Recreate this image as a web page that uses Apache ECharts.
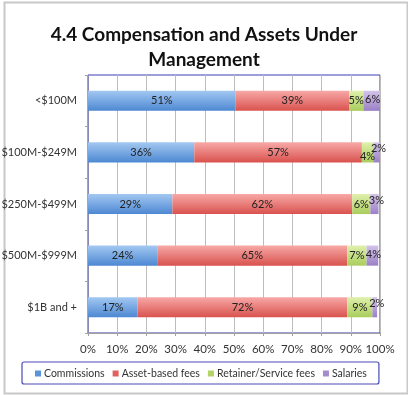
<!DOCTYPE html>
<html>
<head>
<meta charset="utf-8">
<script src="https://cdn.jsdelivr.net/npm/echarts@6/dist/echarts.min.js"></script>
<style>
html,body{margin:0;padding:0;background:#fff;}
#c{width:408px;height:395px;}
</style>
</head>
<body>
<div id="c"></div>
<script>
const categories = ['<$100M', '$100M-$249M', '$250M-$499M', '$500M-$999M', '$1B and +'];
const commissions = [50.6, 36.4, 28.9, 23.7, 17.0];
const assetBased = [38.8, 57.4, 61.6, 65.1, 71.8];
const retainer = [4.9, 3.9, 6.2, 6.6, 8.6];
const salaries = [5.7, 2.2, 2.8, 4.0, 1.6];
const seriesNames = ['Commissions', 'Asset-based fees', 'Retainer/Service fees', 'Salaries'];
const tickLabels = ['0%','10%','20%','30%','40%','50%','60%','70%','80%','90%','100%'];

const FONT = 'Lato, "Open Sans", sans-serif';
function grad(top, bottom) {
  return new echarts.graphic.LinearGradient(0, 0, 0, 1, [
    {offset: 0, color: top}, {offset: 1, color: bottom}
  ]);
}
const colors = [
  grad('#a3c8f2', '#4d88d2'),
  grad('#f7a9a7', '#d9524e'),
  grad('#e0f0ad', '#a9cd5c'),
  grad('#d3c3ea', '#9b80c6')
];
const legendColors = ['#5b94d8', '#e06260', '#b4d46a', '#a58dcc'];
const allData = [commissions, assetBased, retainer, salaries];

// nudge crowded small labels (as in the original) so they do not overlap
function labelOffset(seriesIdx, v, rowIdx) {
  if (seriesIdx === 2 && v < 5 && salaries[rowIdx] < 3) return [0, 4];
  if (seriesIdx === 3 && v < 3) return [2, -4];
  if (seriesIdx === 3) return [1, -1];
  return [0, 0];
}

const chart = echarts.init(document.getElementById('c'));
chart.setOption({
  animation: false,
  backgroundColor: '#fff',
  title: {
    text: '4.4 Compensation and Assets Under\nManagement',
    left: 'center',
    top: 17,
    textStyle: {fontFamily: FONT, fontWeight: 'bold', fontSize: 19, color: '#111', lineHeight: 25}
  },
  graphic: [{
    type: 'rect', left: 2, top: 0, z: -1,
    shape: {width: 403, height: 391},
    style: {fill: 'none', stroke: '#c8c8c8', lineWidth: 2}
  }],
  legend: {
    data: seriesNames.map((n, i) => ({name: n, itemStyle: {color: legendColors[i]}})),
    top: 362,
    left: 22,
    width: 384,
    icon: 'rect',
    itemWidth: 6,
    itemHeight: 6,
    itemGap: 8,
    padding: [6, 12, 5, 13],
    borderColor: '#4a4ab8',
    borderWidth: 1.2,
    borderRadius: 2,
    textStyle: {fontFamily: FONT, fontSize: 10.5, color: '#333', padding: [0, 0, 0, -2]}
  },
  grid: {
    left: 88, right: 28, top: 75, bottom: 62,
    outerBoundsMode: 'none', containLabel: false,
    show: true, borderColor: '#3c3cb4', borderWidth: 1
  },
  xAxis: {
    type: 'value', min: 0, max: 100, interval: 10,
    axisLabel: {formatter: v => tickLabels[Math.round(v / 10)], fontFamily: FONT, fontSize: 11.5, color: '#333', margin: 10},
    splitLine: {show: true, lineStyle: {color: '#bdbdbd', width: 1}},
    axisLine: {show: true, lineStyle: {color: '#a0a0a0'}},
    axisTick: {show: true, length: 3, lineStyle: {color: '#a0a0a0'}}
  },
  yAxis: {
    type: 'category', data: categories, inverse: true,
    axisLabel: {fontFamily: FONT, fontSize: 11, color: '#333', margin: 11},
    axisLine: {show: true, lineStyle: {color: '#8a8ab8'}},
    axisTick: {show: true, length: 3, lineStyle: {color: '#a0a0a0'}},
    splitLine: {show: false}
  },
  series: allData.map((d, i) => ({
    name: seriesNames[i],
    type: 'bar',
    stack: 'total',
    barWidth: '39%',
    data: d.map((v, r) => ({value: v, label: {offset: labelOffset(i, v, r)}})),
    itemStyle: {color: colors[i]},
    label: {
      show: true, position: 'inside',
      formatter: p => Math.round(p.value) + '%',
      fontFamily: FONT, fontSize: 11, color: '#222'
    }
  }))
});
</script>
</body>
</html>
